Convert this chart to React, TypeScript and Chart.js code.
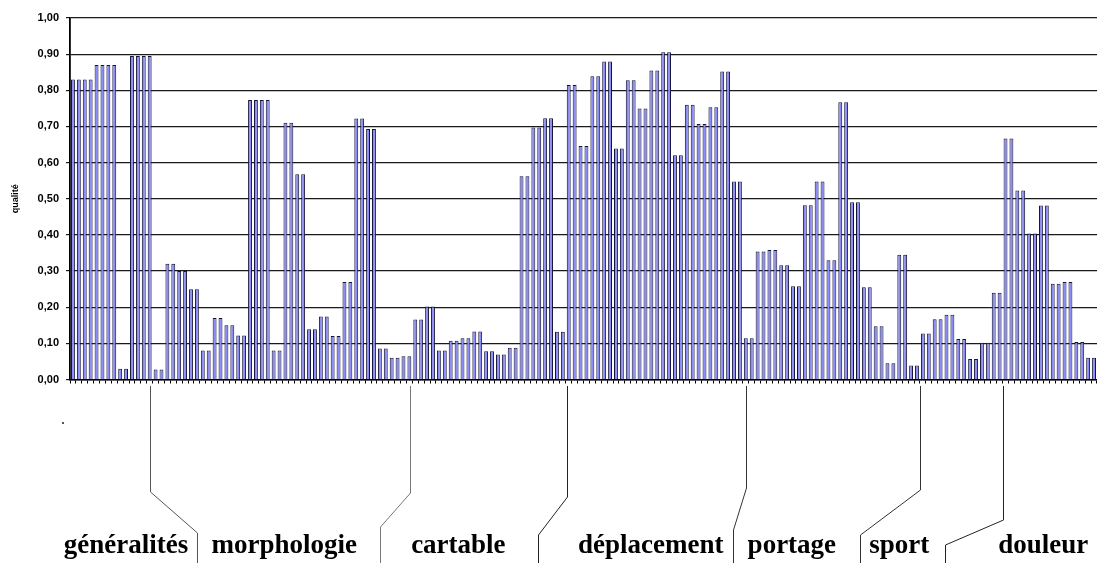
import React, { useEffect, useRef } from 'react';
import { Chart, registerables } from 'chart.js';

Chart.register(...registerables);

// ---- data ----
const qualite: number[] = [
  0.83, 0.83, 0.83, 0.83, 0.87, 0.87, 0.87, 0.87, 0.03, 0.03,
  0.895, 0.895, 0.895, 0.895, 0.028, 0.028, 0.32, 0.32, 0.30, 0.30,
  0.25, 0.25, 0.08, 0.08, 0.17, 0.17, 0.15, 0.15, 0.122, 0.122,
  0.773, 0.773, 0.773, 0.773, 0.08, 0.08, 0.71, 0.71, 0.568, 0.568,
  0.139, 0.139, 0.174, 0.174, 0.12, 0.12, 0.27, 0.27, 0.722, 0.722,
  0.693, 0.693, 0.086, 0.086, 0.06, 0.06, 0.064, 0.064, 0.166, 0.166,
  0.202, 0.202, 0.08, 0.08, 0.107, 0.107, 0.114, 0.114, 0.133, 0.133,
  0.078, 0.078, 0.069, 0.069, 0.088, 0.088, 0.562, 0.562, 0.697, 0.697,
  0.723, 0.723, 0.132, 0.132, 0.815, 0.815, 0.646, 0.646, 0.839, 0.839,
  0.88, 0.88, 0.639, 0.639, 0.828, 0.828, 0.75, 0.75, 0.855, 0.855,
  0.905, 0.905, 0.62, 0.62, 0.76, 0.76, 0.707, 0.707, 0.753, 0.753,
  0.852, 0.852, 0.548, 0.548, 0.114, 0.114, 0.354, 0.354, 0.358, 0.358,
  0.316, 0.316, 0.258, 0.258, 0.482, 0.482, 0.548, 0.548, 0.33, 0.33,
  0.767, 0.767, 0.49, 0.49, 0.255, 0.255, 0.147, 0.147, 0.045, 0.045,
  0.345, 0.345, 0.039, 0.039, 0.127, 0.127, 0.167, 0.167, 0.179, 0.179,
  0.112, 0.112, 0.057, 0.057, 0.102, 0.102, 0.24, 0.24, 0.667, 0.667,
  0.523, 0.523, 0.404, 0.404, 0.481, 0.481, 0.265, 0.265, 0.27, 0.27,
  0.104, 0.104, 0.06, 0.06,
];
const categories: string[] = qualite.map((_, i) => String(i + 1));
const yTickLabels: string[] = ['0,00', '0,10', '0,20', '0,30', '0,40', '0,50', '0,60', '0,70', '0,80', '0,90', '1,00'];
const groupLabels: string[] = ['généralités', 'morphologie', 'cartable', 'déplacement', 'portage', 'sport', 'douleur'];
const yTitle = 'qualité';

// ---- annotation plugin: group brackets under the axis ----
const bracketPlugin = {
  id: 'groupBrackets',
  afterDraw(chart: any) {
    const { ctx } = chart;
    const xs = chart.scales.x;
    const w = xs.width / categories.length;
    const px = (k: number) => xs.left + k * w;
    // separators: [top k, bend y1, bottom k, bend y2, colour]
    const seps: [number, number, number, number, string][] = [
      [13.5, 492, 21.5, 533, '#555'],
      [57.6, 493, 52.5, 527, '#777'],
      [84.2, 497, 79.3, 535, '#222'],
      [114.5, 488, 112.3, 530, '#333'],
      [144.0, 490, 133.9, 535, '#333'],
      [158.0, 520, 148.3, 545, '#222'],
    ];
    ctx.save();
    ctx.lineWidth = 1;
    seps.forEach(([kt, y1, kb, y2, col]) => {
      const xt = Math.round(px(kt)) + 0.5;
      const xb = Math.round(px(kb)) + 0.5;
      ctx.strokeStyle = col;
      ctx.beginPath();
      ctx.moveTo(xt, 386);
      ctx.lineTo(xt, y1);
      ctx.lineTo(xb, y2);
      ctx.lineTo(xb, 563);
      ctx.stroke();
    });
    const centers = [9.5, 36.3, 65.8, 98.4, 122.3, 140.5, 164.9];
    ctx.fillStyle = '#000';
    ctx.font = 'bold 27px "Liberation Serif", "Times New Roman", serif';
    ctx.textAlign = 'center';
    ctx.textBaseline = 'alphabetic';
    groupLabels.forEach((t, i) => {
      ctx.fillText(t, px(centers[i]), 553);
    });
    ctx.fillStyle = '#555';
    ctx.fillRect(62, 422, 2, 2);
    ctx.restore();
  },
};

export default function App() {
  const ref = useRef<HTMLCanvasElement | null>(null);
  useEffect(() => {
    if (!ref.current) return;
    const chart = new Chart(ref.current, {
      type: 'bar',
      data: {
        labels: categories,
        datasets: [
          {
            label: yTitle,
            data: qualite,
            backgroundColor: '#8c8cf5',
            borderColor: '#14143a',
            borderWidth: 1,
            barPercentage: 0.66,
            categoryPercentage: 1.0,
          },
        ],
      },
      options: {
        animation: false,
        responsive: true,
        maintainAspectRatio: false,
        layout: { padding: { top: 18, left: 0, right: 0, bottom: 0 } },
        plugins: {
          legend: { display: false },
          tooltip: { enabled: false },
        },
        scales: {
          x: {
            offset: true,
            grid: {
              offset: true,
              drawOnChartArea: false,
              drawTicks: true,
              tickLength: 4,
              color: '#000',
            },
            border: { display: true, color: '#000', width: 1.5 },
            ticks: { display: false, autoSkip: false },
            afterFit: (s: any) => {
              s.height = 183.5;
            },
          },
          y: {
            min: 0,
            max: 1,
            grid: {
              color: '#1a1a1a',
              lineWidth: 1.2,
              drawTicks: true,
              tickLength: 4,
            },
            border: { display: true, color: '#000', width: 1.8 },
            ticks: {
              stepSize: 0.1,
              padding: 7,
              color: '#000',
              font: { family: '"Liberation Sans", Arial, sans-serif', size: 11, weight: 'bold' },
              callback: (v: any) => yTickLabels[Math.round(Number(v) * 10)],
            },
            title: {
              display: true,
              text: yTitle,
              color: '#000',
              padding: { top: 10, bottom: 0 },
              font: { family: '"Liberation Sans", Arial, sans-serif', size: 9, weight: 'bold' },
            },
            afterFit: (s: any) => {
              s.width = 70;
            },
          },
        },
      },
      plugins: [bracketPlugin],
    });
    return () => chart.destroy();
  }, []);
  return (
    <div style={{ position: 'absolute', left: 0, top: 0, width: 1097, height: 563, background: '#fff' }}>
      <canvas ref={ref} />
    </div>
  );
}
